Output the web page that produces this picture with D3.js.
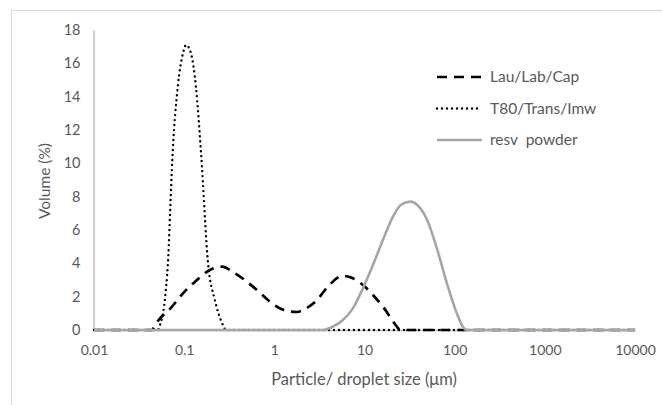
<!DOCTYPE html>
<html>
<head>
<meta charset="utf-8">
<script src="https://cdn.jsdelivr.net/npm/d3@7"></script>
<style>
  html, body { margin: 0; padding: 0; background: #ffffff; }
  svg { display: block; }
  text { font-family: Lato, "Open Sans", sans-serif; fill: #595959; }
</style>
</head>
<body>
<svg id="chart" width="662" height="405"></svg>
<script>
// Particle / droplet size distributions (volume %)
const xTicks = [0.01, 0.1, 1, 10, 100, 1000, 10000];
const xTickLabels = ["0.01", "0.1", "1", "10", "100", "1000", "10000"];
const yTicks = [0, 2, 4, 6, 8, 10, 12, 14, 16, 18];

const lauSize = [0.01, 0.044, 0.0475, 0.0733, 0.097, 0.132, 0.193, 0.262, 0.366, 0.641, 0.849,
                 1.21, 1.78, 2.08, 2.97, 3.93, 5.76, 7.43, 10.1, 12.4, 16.0, 22.9, 24.7, 10000];
const lauVol  = [0, 0, 0.3, 1.4, 2.2, 2.9, 3.6, 3.8, 3.4, 2.4, 1.8,
                 1.25, 1.08, 1.2, 1.8, 2.6, 3.25, 3.1, 2.6, 2.1, 1.4, 0.2, 0, 0];

const t80Size = [0.01, 0.051, 0.054, 0.061, 0.066, 0.073, 0.0745, 0.085, 0.097, 0.105,
                 0.119, 0.135, 0.154, 0.184, 0.219, 0.269, 0.29, 10000];
const t80Vol  = [0, 0, 0.3, 1.8, 4.0, 9.6, 10.6, 14.6, 16.6, 17.1,
                 16.6, 14.6, 10.6, 4.0, 1.8, 0.3, 0, 0];

const resvSize = [0.01, 3.46, 4.46, 5.76, 7.43, 9.6, 12.4, 16.0, 20.7, 25.3, 31.9,
                  40.1, 50.5, 63.5, 82.0, 105.7, 123, 133, 10000];
const resvVol  = [0, 0, 0.2, 0.6, 1.3, 2.5, 3.9, 5.4, 6.8, 7.5, 7.7,
                  7.4, 6.5, 4.9, 2.8, 1.0, 0.2, 0, 0];

const seriesNames = ["Lau/Lab/Cap", "T80/Trans/Imw", "resv  powder"];

const svg = d3.select("#chart");

// chart area frame (left and top edges show)
svg.append("rect")
  .attr("x", 11.5).attr("y", 10.5)
  .attr("width", 700).attr("height", 450)
  .attr("fill", "none").attr("stroke", "#d9d9d9").attr("stroke-width", 1);

const plot = { left: 94, right: 635, top: 30, bottom: 330 };

const x = d3.scaleLog().domain([0.01, 10000]).range([plot.left, plot.right]);
const y = d3.scaleLinear().domain([0, 18]).range([plot.bottom, plot.top]);

// y axis
const yAxis = svg.append("g")
  .attr("transform", `translate(${plot.left - 0.5},0)`)
  .call(d3.axisLeft(y).tickValues(yTicks).tickSize(0).tickPadding(13).tickFormat(d3.format("d")));
yAxis.select(".domain").attr("stroke", "#bfbfbf").attr("stroke-width", 1.5);
yAxis.selectAll("text").style("font-size", "14.5px").attr("fill", "#595959");

// x axis
const xAxis = svg.append("g")
  .attr("transform", `translate(0,${plot.bottom})`)
  .call(d3.axisBottom(x).tickValues(xTicks).tickSize(0).tickPadding(15)
        .tickFormat((d, i) => xTickLabels[i]));
xAxis.select(".domain").attr("stroke", "#bfbfbf").attr("stroke-width", 1.5);
xAxis.selectAll("text").style("font-size", "14px").attr("fill", "#595959");

// axis titles
svg.append("text")
  .attr("x", 364).attr("y", 385)
  .attr("text-anchor", "middle")
  .style("font-size", "16.5px")
  .text("Particle/ droplet size (μm)");

svg.append("text")
  .attr("transform", "translate(50,181) rotate(-90)")
  .attr("text-anchor", "middle")
  .style("font-size", "15.5px")
  .text("Volume (%)");

const line = d3.line()
  .x(d => x(d[0]))
  .y(d => y(d[1]))
  .curve(d3.curveMonotoneX);

const styles = [
  { stroke: "#000000", width: 2.7, dash: "10,7", cap: "butt" },
  { stroke: "#000000", width: 2.4, dash: "0,5", cap: "round" },
  { stroke: "#a6a6a6", width: 2.6, dash: null, cap: "butt" }
];

const series = [
  d3.zip(lauSize, lauVol),
  d3.zip(t80Size, t80Vol),
  d3.zip(resvSize, resvVol)
];

series.forEach((pts, i) => {
  const s = styles[i];
  svg.append("path")
    .datum(pts)
    .attr("d", line)
    .attr("fill", "none")
    .attr("stroke", s.stroke)
    .attr("stroke-width", s.width)
    .attr("stroke-linecap", s.cap)
    .attr("stroke-linejoin", "round")
    .attr("stroke-dasharray", s.dash);
});

// legend
const legend = svg.append("g");
seriesNames.forEach((name, i) => {
  const s = styles[i];
  const ly = 77 + i * 31.5;
  legend.append("line")
    .attr("x1", 437).attr("x2", 482)
    .attr("y1", ly).attr("y2", ly)
    .attr("stroke", s.stroke)
    .attr("stroke-width", s.width)
    .attr("stroke-linecap", s.cap)
    .attr("stroke-dasharray", s.dash);
  legend.append("text")
    .attr("x", 490).attr("y", ly)
    .attr("dy", "0.35em")
    .style("font-size", "15.5px")
    .style("white-space", "pre")
    .attr("xml:space", "preserve")
    .text(name);
});
</script>
</body>
</html>
